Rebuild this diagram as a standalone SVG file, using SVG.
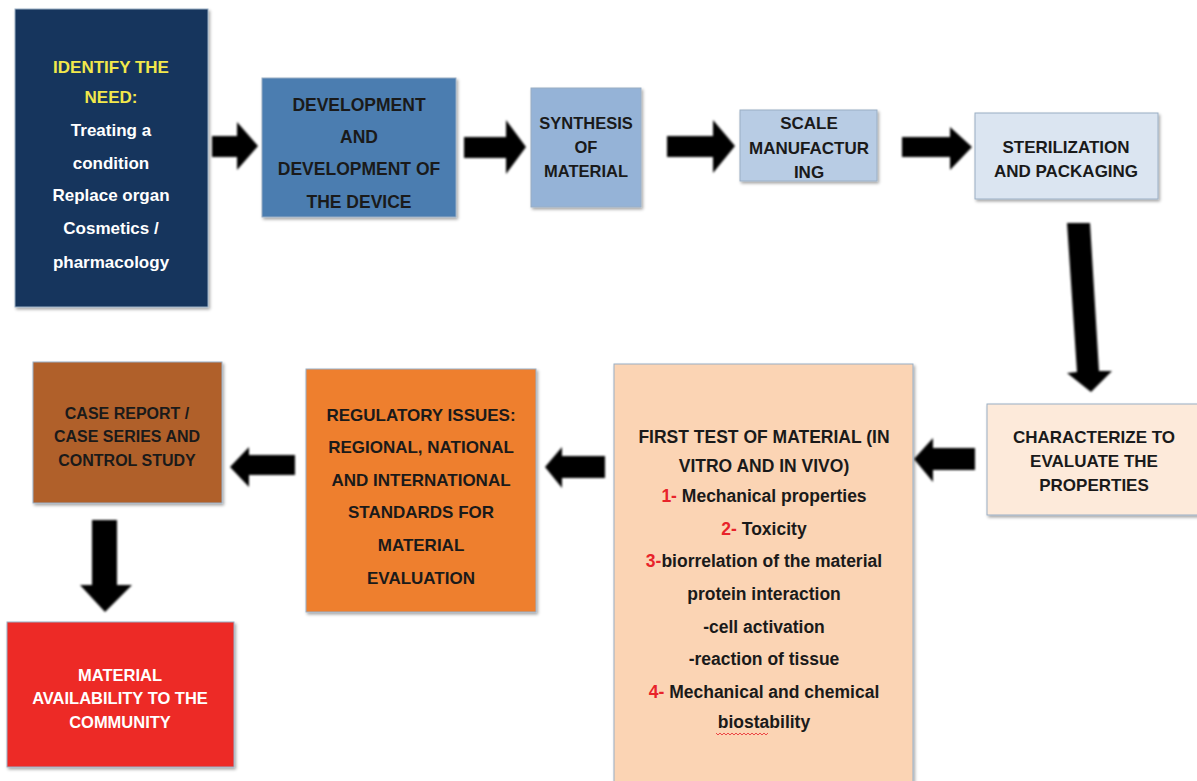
<svg xmlns="http://www.w3.org/2000/svg" width="1197" height="781" viewBox="0 0 1197 781">
<defs>
<filter id="sh" x="-10%" y="-10%" width="130%" height="130%">
<feDropShadow dx="1.5" dy="2" stdDeviation="1.5" flood-color="#000" flood-opacity="0.35"/>
</filter>
<filter id="ash" x="-20%" y="-20%" width="140%" height="140%">
<feGaussianBlur stdDeviation="0.8"/>
</filter>
</defs>
<style>
.box{stroke:#9aaec4;stroke-width:1;filter:url(#sh)}
.t{font-family:"Liberation Sans",Arial,sans-serif;font-weight:bold;text-anchor:middle;fill:#1a1a1a}
.s16{font-size:16px}
.s165{font-size:16.5px}
.s17{font-size:17px}
.s175{font-size:17.5px}
.w{fill:#ffffff}
.y{fill:#f2e84b}
.r{fill:#e8232a}
.arrow{fill:#000;filter:url(#ash)}
</style>
<rect width="1197" height="781" fill="#ffffff"/>

<g id="connectors">
<polygon class="arrow" points="212,136 237,136 237,122 258,146 237,170 237,157 212,157"/>
<polygon class="arrow" points="464,137 506,137 506,120 526,147 506,174 506,158 464,158"/>
<polygon class="arrow" points="667,136 713,136 713,120 735,146 713,173 713,157 667,157"/>
<polygon class="arrow" points="902,137 950,137 950,127 972,147 950,170 950,157 902,157"/>
<polygon class="arrow" points="1067,223 1090,223 1099,371 1112,371 1091,392 1067,373 1077,372"/>
<polygon class="arrow" points="975,448 933,448 933,438 914,459 933,482 933,470 975,470"/>
<polygon class="arrow" points="605,456 562,456 562,447 545,467 562,488 562,478 605,478"/>
<polygon class="arrow" points="295,455 249,455 249,447 230,467 249,487 249,475 295,475"/>
<polygon class="arrow" points="92,520 117,520 117,585 132,585 105,612 80,585 92,585"/>
</g>

<g id="n1">
<rect class="box" x="15" y="9" width="193" height="298" fill="#17365d"/>
<text class="t s17 y" x="111" y="73">IDENTIFY THE</text>
<text class="t s17 y" x="111" y="103">NEED:</text>
<text class="t s17 w" x="111" y="136">Treating a</text>
<text class="t s17 w" x="111" y="169">condition</text>
<text class="t s17 w" x="111" y="201">Replace organ</text>
<text class="t s17 w" x="111" y="234">Cosmetics /</text>
<text class="t s17 w" x="111" y="268">pharmacology</text>
</g>

<g id="n2">
<rect class="box" x="262" y="78" width="194" height="139" fill="#4b7db0"/>
<text class="t s175" x="359" y="111">DEVELOPMENT</text>
<text class="t s175" x="359" y="143">AND</text>
<text class="t s175" x="359" y="175">DEVELOPMENT OF</text>
<text class="t s175" x="359" y="208">THE DEVICE</text>
</g>

<g id="n3">
<rect class="box" x="531" y="88" width="110" height="119" fill="#95b3d7"/>
<text class="t s165" x="586" y="129">SYNTHESIS</text>
<text class="t s165" x="586" y="153">OF</text>
<text class="t s165" x="586" y="177">MATERIAL</text>
</g>

<g id="n4">
<rect class="box" x="740" y="110" width="137" height="71" fill="#b8cce4"/>
<text class="t s17" x="809" y="129">SCALE</text>
<text class="t s17" x="809" y="154">MANUFACTUR</text>
<text class="t s17" x="809" y="178">ING</text>
</g>

<g id="n5">
<rect class="box" x="975" y="113" width="183" height="86" fill="#dbe5f1"/>
<text class="t s17" x="1066" y="153">STERILIZATION</text>
<text class="t s17" x="1066" y="177">AND PACKAGING</text>
</g>

<g id="n6">
<rect class="box" x="987" y="404" width="212" height="111" fill="#fdeada"/>
<text class="t s17" x="1094" y="443">CHARACTERIZE TO</text>
<text class="t s17" x="1094" y="467">EVALUATE THE</text>
<text class="t s17" x="1094" y="491">PROPERTIES</text>
</g>

<g id="n7">
<rect class="box" x="614" y="364" width="299" height="420" fill="#fbd4b4"/>
<text class="t s175" x="764" y="443">FIRST TEST OF MATERIAL (IN</text>
<text class="t s175" x="764" y="472">VITRO AND IN VIVO)</text>
<text class="t s175" x="764" y="502"><tspan class="r">1-</tspan> Mechanical properties</text>
<text class="t s175" x="764" y="535"><tspan class="r">2-</tspan> Toxicity</text>
<text class="t s175" x="764" y="567"><tspan class="r">3-</tspan>biorrelation of the material</text>
<text class="t s175" x="764" y="600">protein interaction</text>
<text class="t s175" x="764" y="633">-cell activation</text>
<text class="t s175" x="764" y="665">-reaction of tissue</text>
<text class="t s175" x="764" y="698"><tspan class="r">4-</tspan> Mechanical and chemical</text>
<text class="t s175" x="764" y="728">biostability</text>
<path d="M716,733 l2,2 l2,-2 l2,2 l2,-2 l2,2 l2,-2 l2,2 l2,-2 l2,2 l2,-2 l2,2 l2,-2 l2,2 l2,-2 l2,2 l2,-2 l2,2 l2,-2 l2,2 l2,-2 l2,2 l2,-2 l2,2 l2,-2 l2,2 l2,-2" fill="none" stroke="#e8232a" stroke-width="0.8"/>
</g>

<g id="n8">
<rect class="box" x="306" y="369" width="230" height="243" fill="#ee7f2d"/>
<text class="t s17" x="421" y="421">REGULATORY ISSUES:</text>
<text class="t s17" x="421" y="453">REGIONAL, NATIONAL</text>
<text class="t s17" x="421" y="486">AND INTERNATIONAL</text>
<text class="t s17" x="421" y="518">STANDARDS FOR</text>
<text class="t s17" x="421" y="551">MATERIAL</text>
<text class="t s17" x="421" y="584">EVALUATION</text>
</g>

<g id="n9">
<rect class="box" x="33" y="362" width="189" height="141" fill="#b0612a"/>
<text class="t s16" x="127" y="419">CASE REPORT /</text>
<text class="t s16" x="127" y="442">CASE SERIES AND</text>
<text class="t s16" x="127" y="466">CONTROL STUDY</text>
</g>

<g id="n10">
<rect class="box" x="7" y="622" width="227" height="145" fill="#ed2b27"/>
<text class="t s165 w" x="120" y="681">MATERIAL</text>
<text class="t s165 w" x="120" y="704">AVAILABILITY TO THE</text>
<text class="t s165 w" x="120" y="728">COMMUNITY</text>
</g>
</svg>
